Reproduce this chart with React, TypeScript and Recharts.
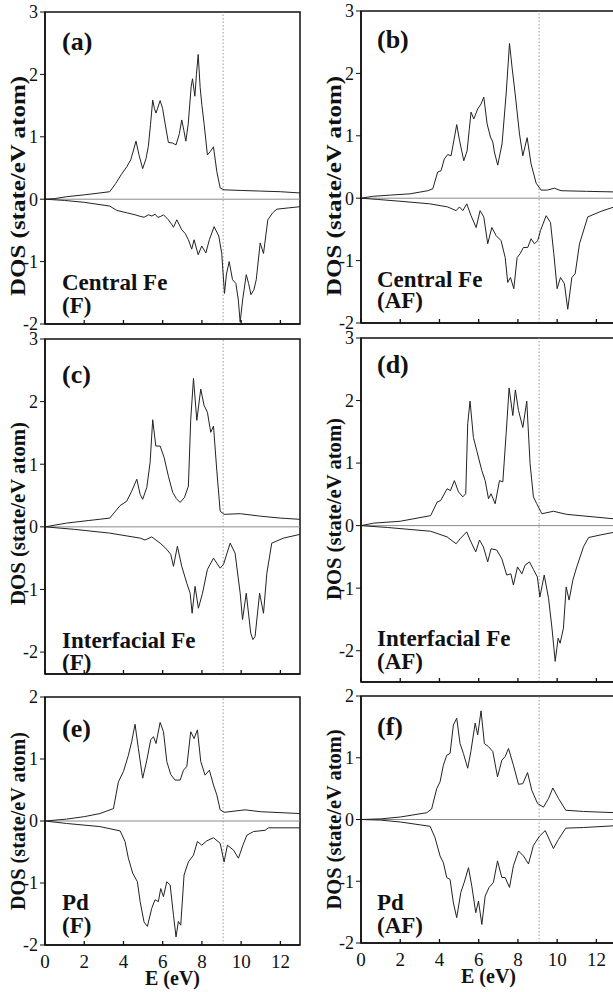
import React from 'react';
import { LineChart, Line, XAxis, YAxis, ReferenceLine, ReferenceArea } from 'recharts';

type Pt = [number, number];

// Energy axis (eV) and Fermi level
const E_DOMAIN: [number, number] = [0, 13];
const E_TICKS = [0, 2, 4, 6, 8, 10, 12];
const FERMI_EV = 9.08;

// DOS tick sets
const DOS_TICKS_FE = [-2, -1, 0, 1, 2, 3];
const DOS_TICKS_PD = [-2, -1, 0, 1, 2];

// (a) Central Fe, ferromagnetic
const centralFeFUp: Pt[] = [[0,0],[0.5,0.01],[1.1,0.04],[2.0,0.07],[2.8,0.10],[3.3,0.12],[3.6,0.25],[3.9,0.40],[4.17,0.52],[4.37,0.63],[4.64,0.93],[4.8,0.7],[4.98,0.49],[5.15,0.65],[5.27,0.85],[5.38,1.2],[5.49,1.59],[5.58,1.45],[5.66,1.38],[5.87,1.58],[6.0,1.45],[6.09,1.27],[6.29,0.91],[6.5,0.9],[6.68,0.87],[6.85,1.05],[6.97,1.27],[7.08,1.1],[7.18,0.93],[7.3,1.2],[7.45,1.8],[7.52,1.93],[7.64,1.65],[7.72,2.0],[7.81,2.32],[7.91,1.79],[8.0,1.5],[8.11,1.21],[8.28,0.71],[8.42,0.76],[8.59,0.84],[8.76,0.44],[8.93,0.18],[9.13,0.15],[10,0.14],[11,0.13],[12,0.12],[13,0.10]];
const centralFeFDown: Pt[] = [[0,0],[1,-0.02],[2,-0.05],[3.3,-0.11],[3.66,-0.18],[4.2,-0.22],[4.59,-0.25],[4.8,-0.27],[5.05,-0.29],[5.27,-0.25],[5.45,-0.27],[5.61,-0.24],[5.75,-0.29],[5.87,-0.28],[6.04,-0.25],[6.29,-0.33],[6.45,-0.40],[6.55,-0.45],[6.72,-0.33],[6.97,-0.49],[7.15,-0.55],[7.31,-0.65],[7.48,-0.80],[7.6,-0.65],[7.81,-0.89],[7.99,-0.75],[8.2,-0.86],[8.38,-0.65],[8.62,-0.44],[8.86,-0.59],[9.01,-0.87],[9.15,-1.51],[9.25,-1.2],[9.39,-1.0],[9.56,-1.29],[9.73,-1.35],[9.85,-1.6],[9.95,-1.97],[10.08,-1.6],[10.26,-1.21],[10.38,-1.35],[10.5,-1.53],[10.65,-1.45],[10.77,-1.29],[10.97,-0.70],[11.14,-0.87],[11.36,-0.33],[11.6,-0.22],[11.82,-0.16],[12.4,-0.14],[13,-0.12]];

// (b) Central Fe, antiferromagnetic
const centralFeAFUp: Pt[] = [[0,0],[0.6,0.03],[1.5,0.05],[2.5,0.07],[3.4,0.12],[3.66,0.15],[3.91,0.42],[4.08,0.44],[4.25,0.63],[4.42,0.70],[4.59,0.68],[4.75,0.95],[4.88,1.18],[5.02,0.93],[5.24,0.60],[5.41,0.76],[5.52,1.1],[5.61,1.38],[5.75,1.27],[5.95,1.43],[6.12,1.51],[6.26,1.62],[6.43,1.19],[6.6,0.98],[6.72,0.9],[6.8,0.74],[6.97,0.53],[7.19,0.87],[7.4,1.67],[7.57,2.48],[7.7,2.10],[7.86,1.67],[8.08,1.03],[8.25,0.68],[8.47,0.97],[8.67,0.55],[8.93,0.24],[9.18,0.13],[9.5,0.13],[9.86,0.16],[10.2,0.12],[11.5,0.11],[13,0.10]];
const centralFeAFDown: Pt[] = [[0,0],[0.85,-0.02],[2.04,-0.05],[3.5,-0.09],[4.42,-0.14],[4.85,-0.20],[5.02,-0.14],[5.19,-0.20],[5.39,-0.09],[5.61,-0.28],[5.87,-0.47],[6.07,-0.20],[6.26,-0.30],[6.46,-0.73],[6.67,-0.47],[6.89,-0.60],[7.14,-0.68],[7.35,-0.95],[7.48,-1.35],[7.62,-1.27],[7.79,-1.45],[7.96,-0.95],[8.11,-0.89],[8.28,-0.79],[8.5,-0.79],[8.67,-0.65],[8.84,-0.73],[9.01,-0.68],[9.15,-0.52],[9.44,-0.28],[9.66,-0.39],[9.83,-0.89],[10.0,-1.45],[10.17,-1.27],[10.37,-1.37],[10.54,-1.78],[10.75,-1.27],[10.92,-1.21],[11.14,-0.73],[11.56,-0.30],[12.24,-0.21],[13,-0.13]];

// (c) Interfacial Fe, ferromagnetic
const interfFeFUp: Pt[] = [[0,0],[1.1,0.06],[2.2,0.10],[3.3,0.14],[3.83,0.34],[4.17,0.41],[4.42,0.57],[4.68,0.76],[4.85,0.52],[4.98,0.44],[5.19,0.63],[5.36,1.03],[5.49,1.71],[5.65,1.29],[5.87,1.29],[6.07,1.11],[6.29,0.81],[6.51,0.55],[6.7,0.45],[6.89,0.39],[7.11,0.47],[7.31,0.65],[7.43,1.72],[7.57,2.37],[7.74,1.70],[7.94,2.2],[8.11,1.94],[8.28,1.83],[8.45,1.51],[8.59,1.61],[8.76,0.89],[8.93,0.25],[9.13,0.20],[9.95,0.21],[11,0.17],[12,0.14],[13,0.12]];
const interfFeFDown: Pt[] = [[0,0],[1.5,-0.04],[3.3,-0.10],[4.85,-0.18],[5.1,-0.21],[5.44,-0.16],[5.87,-0.26],[6.21,-0.36],[6.41,-0.44],[6.55,-0.63],[6.75,-0.31],[6.97,-0.63],[7.23,-0.90],[7.4,-1.06],[7.5,-1.38],[7.65,-0.95],[7.82,-1.30],[8.03,-1.06],[8.28,-0.68],[8.59,-0.50],[8.93,-0.66],[9.1,-0.60],[9.44,-0.26],[9.69,-0.42],[9.95,-1.06],[10.07,-1.48],[10.26,-1.06],[10.49,-1.70],[10.6,-1.80],[10.71,-1.75],[10.94,-1.06],[11.14,-1.38],[11.31,-0.74],[11.56,-0.26],[12.16,-0.18],[13,-0.12]];

// (d) Interfacial Fe, antiferromagnetic
const interfFeAFUp: Pt[] = [[0,0],[0.65,0.04],[2,0.07],[3.55,0.16],[3.89,0.38],[4.06,0.40],[4.39,0.59],[4.56,0.56],[4.76,0.72],[4.97,0.54],[5.19,0.46],[5.34,0.51],[5.44,1.63],[5.56,1.99],[5.73,1.41],[5.9,1.2],[6.16,0.88],[6.33,0.72],[6.5,0.43],[6.63,0.51],[6.84,0.35],[7.06,0.72],[7.23,0.70],[7.4,1.47],[7.55,2.2],[7.74,1.76],[7.87,2.17],[8.03,1.84],[8.25,1.57],[8.45,1.99],[8.62,0.99],[8.79,0.46],[8.96,0.35],[9.22,0.19],[9.81,0.23],[10.49,0.18],[12.87,0.11],[13,0.11]];
const interfFeAFDown: Pt[] = [[0,0],[1.36,-0.03],[3.55,-0.09],[4.39,-0.18],[4.85,-0.29],[5.05,-0.21],[5.39,-0.10],[5.56,-0.23],[5.85,-0.42],[6.04,-0.23],[6.24,-0.34],[6.46,-0.58],[6.63,-0.37],[6.92,-0.39],[7.18,-0.53],[7.43,-0.79],[7.64,-0.77],[7.77,-0.95],[7.98,-0.66],[8.2,-0.77],[8.37,-0.63],[8.59,-0.58],[8.79,-0.70],[8.99,-0.82],[9.12,-1.14],[9.34,-0.79],[9.56,-1.16],[9.73,-1.62],[9.9,-2.17],[10.05,-1.80],[10.15,-1.88],[10.32,-1.64],[10.46,-0.98],[10.61,-1.19],[10.8,-0.87],[11.0,-0.66],[11.34,-0.34],[11.6,-0.19],[12.19,-0.15],[13,-0.10]];

// (e) Pd, ferromagnetic
const pdFUp: Pt[] = [[0,0],[1.1,0.03],[2.0,0.07],[2.8,0.12],[3.49,0.20],[3.74,0.63],[4.0,0.80],[4.25,1.06],[4.42,1.28],[4.59,1.56],[4.76,1.17],[4.98,0.69],[5.19,0.98],[5.39,1.31],[5.53,1.36],[5.66,1.25],[5.87,1.59],[6.04,1.44],[6.21,0.96],[6.41,0.75],[6.63,0.66],[6.89,0.66],[7.06,0.82],[7.23,0.88],[7.43,1.44],[7.6,1.33],[7.77,1.47],[7.94,0.96],[8.16,0.74],[8.38,0.82],[8.59,0.58],[8.76,0.42],[8.93,0.18],[9.13,0.14],[10.2,0.18],[10.97,0.15],[13,0.12]];
const pdFDown: Pt[] = [[0,0],[1.1,-0.04],[2.8,-0.09],[3.83,-0.16],[4.08,-0.33],[4.25,-0.60],[4.47,-0.84],[4.71,-0.98],[4.85,-1.30],[5.05,-1.63],[5.22,-1.70],[5.44,-1.41],[5.61,-1.27],[5.78,-1.30],[5.9,-1.09],[6.04,-1.22],[6.21,-0.98],[6.38,-1.03],[6.55,-1.52],[6.68,-1.87],[6.8,-1.62],[6.92,-1.68],[7.09,-0.87],[7.31,-0.66],[7.57,-0.55],[7.77,-0.33],[7.99,-0.39],[8.25,-0.32],[8.59,-0.27],[8.93,-0.36],[9.13,-0.66],[9.3,-0.39],[9.61,-0.47],[9.86,-0.60],[10.09,-0.39],[10.29,-0.23],[10.63,-0.17],[11.22,-0.15],[11.39,-0.11],[13,-0.11]];

// (f) Pd, antiferromagnetic
const pdAFUp: Pt[] = [[0,0],[1,0.01],[2,0.04],[3.35,0.11],[3.6,0.17],[3.86,0.50],[4.03,0.61],[4.2,0.88],[4.37,1.04],[4.54,1.07],[4.71,1.53],[4.88,1.64],[5.05,1.23],[5.22,1.07],[5.44,0.83],[5.6,1.10],[5.82,1.56],[5.95,1.37],[6.12,1.76],[6.29,1.23],[6.5,1.18],[6.72,1.10],[6.96,0.69],[7.18,0.96],[7.35,1.02],[7.52,1.15],[7.77,0.88],[8.03,0.57],[8.25,0.58],[8.49,0.76],[8.71,0.47],[9.0,0.26],[9.3,0.20],[9.56,0.34],[9.78,0.51],[10.07,0.34],[10.44,0.15],[11.34,0.13],[13,0.11]];
const pdAFDown: Pt[] = [[0,0],[1,-0.01],[2,-0.04],[3.52,-0.11],[3.77,-0.29],[4.03,-0.59],[4.2,-0.70],[4.37,-0.94],[4.54,-0.97],[4.71,-1.35],[4.88,-1.59],[5.09,-1.18],[5.26,-1.02],[5.48,-0.78],[5.65,-1.08],[5.85,-1.51],[5.99,-1.32],[6.16,-1.70],[6.33,-1.24],[6.53,-1.10],[6.75,-1.02],[6.96,-0.67],[7.18,-0.94],[7.35,-0.94],[7.57,-1.10],[7.77,-0.75],[8.03,-0.51],[8.28,-0.59],[8.54,-0.72],[8.79,-0.42],[9.1,-0.27],[9.39,-0.18],[9.81,-0.47],[10.07,-0.32],[10.44,-0.14],[11.34,-0.13],[13,-0.10]];

const SERIF = 'Liberation Serif, Tinos, Times New Roman, Nimbus Roman, DejaVu Serif, serif';
const INK = '#111';
const CURVE = '#222';

// Shared panel geometry
const Y_W = 45;
const PAD_T = 10;
const PAD_R = 6;
const PLOT_W = 255;

type PanelSpec = {
  key: string;
  up: Pt[];
  down: Pt[];
  yDomain: [number, number];
  yTicks: number[];
  plotLeft: number;
  plotTop: number;
  plotH: number;
  bottomRow: boolean;
  dosShift: number;
  dosLen: number;
  tag: string;
  tagAt: [number, number];
  site: string;
  siteAt: [number, number];
  order: string;
  orderAt: [number, number];
};

const panels: PanelSpec[] = [
  { key: 'a', up: centralFeFUp, down: centralFeFDown, yDomain: [-2, 3], yTicks: DOS_TICKS_FE,
    plotLeft: 45, plotTop: 12, plotH: 312, bottomRow: false, dosShift: 18, dosLen: 220,
    tag: '(a)', tagAt: [62, 50], site: 'Central Fe', siteAt: [62, 290], order: '(F)', orderAt: [62, 313] },
  { key: 'b', up: centralFeAFUp, down: centralFeAFDown, yDomain: [-2, 3], yTicks: DOS_TICKS_FE,
    plotLeft: 361, plotTop: 11, plotH: 312, bottomRow: false, dosShift: 19, dosLen: 220,
    tag: '(b)', tagAt: [377, 48], site: 'Central Fe', siteAt: [377, 287], order: '(AF)', orderAt: [377, 308] },
  { key: 'c', up: interfFeFUp, down: interfFeFDown, yDomain: [-2.35, 3], yTicks: DOS_TICKS_FE,
    plotLeft: 45, plotTop: 339, plotH: 335, bottomRow: false, dosShift: 7, dosLen: 183,
    tag: '(c)', tagAt: [62, 383], site: 'Interfacial Fe', siteAt: [62, 648], order: '(F)', orderAt: [62, 670] },
  { key: 'd', up: interfFeAFUp, down: interfFeAFDown, yDomain: [-2.5, 3], yTicks: DOS_TICKS_FE,
    plotLeft: 361, plotTop: 338, plotH: 344, bottomRow: false, dosShift: -1, dosLen: 182,
    tag: '(d)', tagAt: [377, 373], site: 'Interfacial Fe', siteAt: [377, 646], order: '(AF)', orderAt: [377, 669] },
  { key: 'e', up: pdFUp, down: pdFDown, yDomain: [-2, 2], yTicks: DOS_TICKS_PD,
    plotLeft: 45, plotTop: 697, plotH: 248, bottomRow: true, dosShift: 0, dosLen: 178,
    tag: '(e)', tagAt: [62, 737], site: 'Pd', siteAt: [62, 910], order: '(F)', orderAt: [62, 933] },
  { key: 'f', up: pdAFUp, down: pdAFDown, yDomain: [-2, 2], yTicks: DOS_TICKS_PD,
    plotLeft: 361, plotTop: 696, plotH: 247, bottomRow: true, dosShift: 0, dosLen: 180,
    tag: '(f)', tagAt: [377, 735], site: 'Pd', siteAt: [377, 910], order: '(AF)', orderAt: [377, 933] },
];

const toRows = (pts: Pt[]) => pts.map(([e, dos]) => ({ e, dos }));

// Energy ticks point into the frame; labels only under the bottom row
const energyTick = (props: any, withLabel: boolean) => {
  const { x, y, payload } = props;
  return (
    <g>
      <line x1={x} x2={x} y1={y} y2={y - 4} stroke={INK} strokeWidth={1.3} />
      {withLabel && (
        <text x={x} y={y + 23} textAnchor="middle" fontFamily={SERIF} fontSize={19} fill={INK}>
          {payload.value}
        </text>
      )}
    </g>
  );
};

function Panel({ p }: { p: PanelSpec }) {
  const xH = p.bottomRow ? 50 : 4;
  const padB = p.bottomRow ? 2 : 14;
  const width = Y_W + PLOT_W + PAD_R;
  const height = PAD_T + p.plotH + xH + padB;
  return (
    <div style={{ position: 'absolute', left: p.plotLeft - Y_W, top: p.plotTop - PAD_T, width, height }}>
      <LineChart width={width} height={height} margin={{ top: PAD_T, right: PAD_R, left: 0, bottom: padB }}>
        <XAxis
          type="number"
          dataKey="e"
          domain={E_DOMAIN}
          ticks={E_TICKS}
          interval={0}
          allowDataOverflow
          height={xH}
          axisLine={{ stroke: INK, strokeWidth: 1.5 }}
          tickLine={false}
          tickSize={0}
          tickMargin={0}
          tick={(props: any) => energyTick(props, p.bottomRow)}
          label={
            p.bottomRow
              ? (lp: any) => {
                  const vb = lp.viewBox;
                  return (
                    <text x={vb.x + vb.width / 2} y={vb.y + 40} textAnchor="middle" fontFamily={SERIF}
                      fontSize={20} fontWeight="bold" fill={INK}>
                      E (eV)
                    </text>
                  );
                }
              : undefined
          }
        />
        <YAxis
          type="number"
          domain={p.yDomain}
          ticks={p.yTicks}
          interval={0}
          allowDataOverflow
          width={Y_W}
          axisLine={{ stroke: INK, strokeWidth: 1.5 }}
          tickLine={{ stroke: INK }}
          tickSize={5}
          tickMargin={2}
          tick={{ fontFamily: SERIF, fontSize: 18, fill: INK }}
          label={(lp: any) => {
            const vb = lp.viewBox;
            const cx = vb.x + vb.width - 20;
            const cy = vb.y + vb.height / 2 + p.dosShift;
            return (
              <text x={cx} y={cy} transform={`rotate(-90, ${cx}, ${cy})`} textAnchor="middle"
                textLength={p.dosLen} lengthAdjust="spacingAndGlyphs"
                fontFamily={SERIF} fontSize={20} fontWeight="bold" fill={INK}>
                DOS (state/eV atom)
              </text>
            );
          }}
        />
        <ReferenceArea x1={E_DOMAIN[0]} x2={E_DOMAIN[1]} y1={p.yDomain[0]} y2={p.yDomain[1]}
          fill="none" fillOpacity={0} stroke={INK} strokeWidth={1.5} />
        <ReferenceLine y={0} stroke="#8a8a8a" strokeWidth={1} />
        <ReferenceLine x={FERMI_EV} stroke="#999" strokeWidth={1} strokeDasharray="1.5 2" />
        <Line data={toRows(p.up)} dataKey="dos" type="linear" stroke={CURVE} strokeWidth={1}
          dot={false} isAnimationActive={false} />
        <Line data={toRows(p.down)} dataKey="dos" type="linear" stroke={CURVE} strokeWidth={1}
          dot={false} isAnimationActive={false} />
      </LineChart>
    </div>
  );
}

export default function App() {
  return (
    <div style={{ position: 'absolute', left: 0, top: 0, width: 613, height: 992, overflow: 'hidden', background: '#fff' }}>
      {panels.map((p) => (
        <Panel key={p.key} p={p} />
      ))}
      <svg width={613} height={992} style={{ position: 'absolute', left: 0, top: 0, pointerEvents: 'none' }}>
        {panels.map((p) => (
          <g key={p.key} fontFamily={SERIF} fontWeight="bold" fill={INK}>
            <text x={p.tagAt[0]} y={p.tagAt[1]} fontSize={26}>{p.tag}</text>
            <text x={p.siteAt[0]} y={p.siteAt[1]} fontSize={23}>{p.site}</text>
            <text x={p.orderAt[0]} y={p.orderAt[1]} fontSize={23}>{p.order}</text>
          </g>
        ))}
      </svg>
    </div>
  );
}
